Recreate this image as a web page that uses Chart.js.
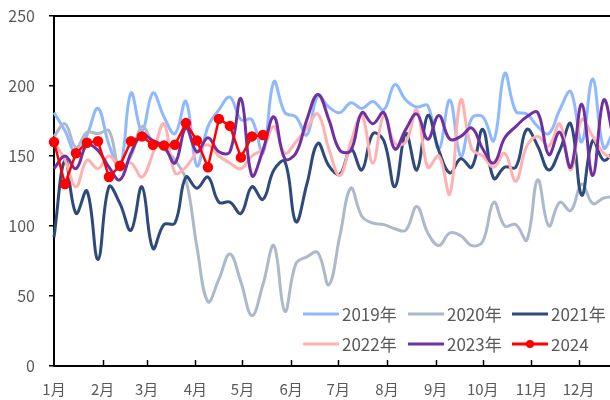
<!DOCTYPE html>
<html>
<head>
<meta charset="utf-8">
<script src="https://cdn.jsdelivr.net/npm/chart.js@4/dist/chart.umd.min.js"></script>
<style>
  html, body { margin: 0; padding: 0; background: #fff; overflow: hidden; }
  #wrap { width: 610px; height: 400px; }
</style>
</head>
<body>
<div id="wrap"><canvas id="chart" width="610" height="400"></canvas></div>
<script>
// 周度数据，x 为一年中的第几天（每 7 天一个点）
const monthStarts = [0, 31, 59, 90, 120, 151, 181, 212, 243, 273, 304, 334];
const monthLabels = ['1月', '2月', '3月', '4月', '5月', '6月', '7月', '8月', '9月', '10月', '11月', '12月'];
const yTicks = [0, 50, 100, 150, 200, 250];
const seriesNames = ['2019年', '2020年', '2021年', '2022年', '2023年', '2024'];

const y2019 = [181, 168, 152, 165, 184, 158, 142, 195, 168, 195, 178, 166, 189, 143,
  171, 183, 192, 176, 176, 152, 203, 181, 178, 165, 193, 185, 181,
  188, 184, 189, 183, 201, 190, 185, 186, 155, 190, 150, 177, 178,
  161, 209, 182, 180, 171, 166, 183, 196, 160, 205, 156, 170];
const y2020 = [164, 173, 156, 167, 166, 168, 140, 150, 171, 160, 155, 147, 133, 85,
  46, 62, 80, 60, 36, 58, 86, 39, 73, 78, 81, 58, 93,
  127, 107, 102, 101, 98, 97, 114, 95, 86, 95, 93, 86, 89,
  117, 100, 101, 90, 133, 100, 117, 111, 130, 116, 120, 121];
const y2021 = [92, 147, 109, 125, 76, 128, 116, 97, 128, 84, 101, 102, 135, 127,
  135, 117, 117, 109, 128, 119, 140, 146, 103, 130, 159, 143, 137,
  155, 140, 166, 161, 128, 166, 140, 179, 154, 138, 148, 142, 169,
  134, 142, 142, 169, 157, 140, 154, 173, 122, 161, 147, 154];
const y2022 = [160, 147, 128, 147, 141, 150, 142, 145, 135, 152, 173, 138, 142, 153,
  158, 150, 145, 141, 150, 155, 171, 152, 160, 170, 180, 155, 136,
  160, 179, 145, 179, 159, 160, 183, 142, 150, 123, 190, 155, 150,
  142, 152, 132, 157, 164, 157, 173, 140, 176, 164, 152, 148];
const y2023 = [141, 150, 141, 158, 154, 142, 133, 152, 165, 161, 157, 145, 170, 153,
  163, 153, 153, 191, 136, 154, 178, 148, 152, 176, 194, 176, 154,
  154, 181, 173, 181, 155, 169, 180, 162, 179, 162, 164, 170, 155,
  145, 163, 171, 178, 181, 151, 167, 142, 187, 136, 190, 157];
const y2024 = [160, 130, 152, 159.5, 160.5, 135, 143, 160.5, 164, 158, 157.5, 158,
  173.5, 161, 142, 176.5, 171.5, 149, 164, 165];

const seriesColors = ['#8fb9ff', '#adb9cb', '#2e4a7b', '#ffb1b1', '#7030a0', '#ff0000'];
const fontFamily = '"Liberation Sans Narrow", "Noto Sans CJK SC", sans-serif';

function weekly(values) {
  return values.map((v, i) => ({ x: i * 7, y: v }));
}

// 手绘图例、上边框和 x 轴内侧刻度
const extras = {
  id: 'extras',
  afterDraw(chart) {
    const { ctx, chartArea: a, scales: { x } } = chart;
    ctx.save();
    ctx.strokeStyle = '#000';
    ctx.lineWidth = 2;
    ctx.beginPath();
    ctx.moveTo(a.left - 1, a.top);
    ctx.lineTo(a.right, a.top);
    ctx.stroke();

    ctx.lineWidth = 1.5;
    ctx.beginPath();
    monthStarts.slice(1).forEach(d => {
      const px = Math.round(x.getPixelForValue(d)) + 0.5;
      ctx.moveTo(px, a.bottom);
      ctx.lineTo(px, a.bottom - 6);
    });
    ctx.stroke();

    const colX = [303, 408, 512];
    const rowY = [314, 344];
    ctx.font = '17px ' + fontFamily;
    ctx.textBaseline = 'middle';
    chart.data.datasets.forEach((ds, i) => {
      const lx = colX[i % 3];
      const ly = rowY[Math.floor(i / 3)];
      ctx.strokeStyle = ds.borderColor;
      ctx.lineWidth = 3;
      ctx.beginPath();
      ctx.moveTo(lx, ly);
      ctx.lineTo(lx + 36, ly);
      ctx.stroke();
      if (ds.pointRadius > 0) {
        ctx.fillStyle = ds.borderColor;
        ctx.beginPath();
        ctx.arc(lx + 18, ly, 4, 0, Math.PI * 2);
        ctx.fill();
      }
      ctx.fillStyle = '#595959';
      ctx.fillText(ds.label, lx + 39, ly + 1);
    });
    ctx.restore();
  }
};

const allSeries = [y2019, y2020, y2021, y2022, y2023, y2024];

new Chart(document.getElementById('chart'), {
  type: 'line',
  data: {
    datasets: allSeries.map((vals, i) => {
      const isLast = i === allSeries.length - 1;
      return {
        label: seriesNames[i],
        data: weekly(vals),
        borderColor: seriesColors[i],
        backgroundColor: seriesColors[i],
        borderWidth: isLast ? 2.5 : 3,
        tension: isLast ? 0 : 0.4,
        pointRadius: isLast ? 4 : 0,
        pointHoverRadius: isLast ? 4 : 0,
        order: allSeries.length - 1 - i,
        clip: isLast ? false : 2
      };
    })
  },
  options: {
    responsive: false,
    animation: false,
    layout: { autoPadding: false, padding: { top: 16, right: 0, left: 0, bottom: 0 } },
    plugins: {
      legend: { display: false },
      tooltip: { enabled: false }
    },
    scales: {
      x: {
        type: 'linear',
        min: 0,
        max: 354,
        afterBuildTicks: scale => { scale.ticks = monthStarts.map(v => ({ value: v })); },
        afterFit: scale => { scale.height = 34; },
        ticks: {
          autoSkip: false,
          maxRotation: 0,
          padding: 14,
          color: '#595959',
          font: { family: fontFamily, size: 15 },
          callback: v => monthLabels[monthStarts.indexOf(v)]
        },
        grid: { display: false, drawTicks: false },
        border: { display: true, color: '#000', width: 2 }
      },
      y: {
        min: 0,
        max: 250,
        afterBuildTicks: scale => { scale.ticks = yTicks.map(v => ({ value: v })); },
        afterFit: scale => {
          scale.width = 54;
          scale.paddingTop = 0;
          scale.paddingBottom = 0;
        },
        ticks: {
          padding: 14,
          color: '#595959',
          font: { family: fontFamily, size: 16 }
        },
        grid: { drawOnChartArea: false, drawTicks: true, tickLength: 5, color: '#000', lineWidth: 1.5 },
        border: { display: true, color: '#000', width: 2 }
      }
    }
  },
  plugins: [extras]
});
</script>
</body>
</html>
